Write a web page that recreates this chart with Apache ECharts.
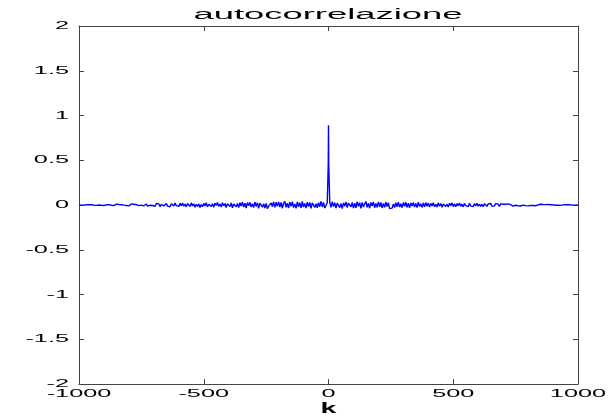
<!DOCTYPE html>
<html>
<head>
<meta charset="utf-8">
<script src="https://cdn.jsdelivr.net/npm/echarts@6/dist/echarts.min.js"></script>
<style>
html,body{margin:0;padding:0;background:#fff;}
#chart{width:612px;height:416px;}
</style>
</head>
<body>
<div id="chart"></div>
<script>
// ---- data ----
const titleText = 'autocorrelazione';
const xName = 'k';
const xTicks = [-1000, -500, 0, 500, 1000];
const yTicks = [-2, -1.5, -1, -0.5, 0, 0.5, 1, 1.5, 2];
const lagStart = -1000;
const lagStep = 5;
// autocorrelation for negative lags k = -1000 ... -5 (step 5)
const rNeg = [
  0.000, 0.002, -0.001, 0.003, -0.002, 0.001, 0.004, -0.003, 0.002, -0.001, 0.003, 0.005, -0.002, 0.001, -0.004, 0.003, 0.000, 0.006, -0.003, 0.002,
  -0.005, 0.007, 0.002, -0.008, 0.004, 0.009, -0.003, 0.006, -0.007, 0.001, 0.010, -0.004, 0.005, -0.009, 0.003, 0.008, -0.002, 0.011, -0.006, 0.004,
  -0.010, 0.006, 0.012, -0.004, 0.009, -0.011, 0.003, 0.014, -0.007, 0.008, -0.002, 0.013, -0.009, 0.005, 0.011, -0.012, 0.007, -0.003, 0.015, -0.006,
  0.010, -0.014, 0.017, -0.005, 0.012, -0.018, 0.008, 0.020, -0.011, 0.004, 0.016, -0.013, 0.009, -0.019, 0.014, 0.002, -0.010, 0.021, -0.007, 0.013,
  -0.016, 0.019, -0.008, 0.023, -0.014, 0.011, -0.021, 0.017, 0.005, -0.018, 0.024, -0.010, 0.013, -0.025, 0.008, -0.015, 0.012, -0.028, 0.006, -0.020,
  0.018, -0.012, 0.026, -0.021, 0.009, 0.023, -0.017, 0.014, -0.026, 0.020, -0.006, 0.028, -0.015, 0.011, -0.023, 0.025, -0.009, 0.017, -0.027, 0.013,
  0.029, -0.018, 0.022, -0.031, 0.012, 0.034, -0.020, 0.016, -0.028, 0.025, -0.011, 0.032, -0.024, 0.019, -0.035, 0.027, -0.008, 0.030, -0.022, 0.015,
  -0.029, 0.033, -0.016, 0.026, -0.037, 0.021, 0.038, -0.025, 0.014, -0.034, 0.018, -0.040, -0.012, -0.031, 0.024, -0.019, 0.036, -0.027, 0.030, -0.013,
  0.035, -0.022, 0.028, -0.036, 0.017, 0.040, -0.026, 0.021, -0.033, 0.031, -0.015, 0.037, -0.029, 0.012, -0.038, 0.034, -0.020, 0.027, -0.032, 0.039,
  -0.024, 0.018, -0.035, 0.032, -0.017, 0.029, -0.038, 0.023, 0.036, -0.027, 0.015, -0.031, 0.026, -0.019, 0.041, -0.022, 0.030, -0.034, -0.020, 0.025
];
// central peak
const peakK = [-1, 0, 1];
const peakR = [0.45, 0.89, 0.45];
// autocorrelation for positive lags k = 5 ... 1000 (step 5)
const rPos = [
  0.031, -0.026, 0.038, -0.018, 0.027, -0.035, 0.020, 0.033, -0.029, 0.016, -0.039, 0.024, -0.013, 0.035, -0.030, 0.022, 0.037, -0.021, 0.028, -0.034,
  0.019, -0.032, 0.036, -0.015, 0.025, -0.038, 0.030, -0.023, 0.014, 0.039, -0.027, 0.021, -0.036, 0.028, -0.012, 0.033, -0.030, 0.017, -0.025, 0.034,
  -0.021, 0.029, -0.033, 0.018, -0.027, 0.031, -0.016, 0.024, -0.040, -0.018, -0.035, 0.012, -0.028, 0.026, -0.019, 0.032, -0.024, 0.015, -0.030, 0.027,
  -0.014, 0.030, -0.025, 0.019, -0.032, 0.023, -0.010, 0.028, -0.022, 0.016, -0.029, 0.031, -0.017, 0.012, -0.026, 0.024, -0.020, 0.027, -0.013, 0.021,
  -0.024, 0.018, -0.011, 0.026, -0.019, 0.008, -0.022, 0.023, -0.014, 0.017, -0.025, 0.012, 0.021, -0.016, 0.009, -0.023, 0.019, -0.007, 0.024, -0.018,
  0.013, -0.020, 0.016, -0.009, 0.022, -0.015, 0.010, -0.021, 0.018, -0.006, 0.014, -0.019, 0.020, -0.012, 0.007, -0.017, 0.015, -0.010, 0.019, -0.014,
  0.011, -0.016, 0.008, -0.019, 0.014, -0.005, -0.015, 0.012, -0.009, 0.017, -0.013, 0.006, -0.011, 0.015, -0.007, 0.010, -0.016, 0.013, -0.004, 0.009,
  -0.011, 0.008, -0.006, 0.013, -0.009, 0.004, 0.011, -0.012, 0.007, -0.003, 0.010, -0.008, 0.005, -0.011, 0.009, -0.002, 0.012, -0.007, 0.006, -0.010,
  0.007, -0.004, 0.009, -0.006, 0.003, -0.008, 0.006, 0.001, -0.005, 0.008, -0.003, 0.005, -0.007, 0.004, -0.002, 0.007, -0.005, 0.003, -0.006, 0.002,
  0.005, -0.003, 0.004, -0.002, 0.003, -0.004, 0.002, 0.001, -0.003, 0.004, -0.001, 0.002, -0.003, 0.002, 0.001, -0.002, 0.002, -0.001, 0.001, 0.000
];

// ---- build series ----
const seriesData = [];
rNeg.forEach((v, i) => seriesData.push([lagStart + i * lagStep, v]));
peakK.forEach((k, i) => seriesData.push([k, peakR[i]]));
rPos.forEach((v, i) => seriesData.push([(i + 1) * lagStep, v]));

const FONT = '"Liberation Sans", Arial, Helvetica, sans-serif';
const AX = '#444';
const plainNum = v => String(v);

function xAxisCfg(pos, showLabel) {
  return {
    type: 'value', position: pos,
    min: xTicks[0], max: xTicks[xTicks.length - 1], interval: xTicks[1] - xTicks[0],
    axisLine: { show: true, onZero: false, lineStyle: { color: AX, width: 1 } },
    axisTick: { show: true, inside: true, length: 5, lineStyle: { color: AX } },
    axisLabel: { show: showLabel, margin: 4, fontSize: 11, color: '#000', fontFamily: FONT, formatter: plainNum },
    splitLine: { show: false }
  };
}
function yAxisCfg(pos, showLabel) {
  return {
    type: 'value', position: pos,
    min: yTicks[0], max: yTicks[yTicks.length - 1], interval: yTicks[1] - yTicks[0],
    axisLine: { show: true, onZero: false, lineStyle: { color: AX, width: 1 } },
    axisTick: { show: true, inside: true, length: 5, lineStyle: { color: AX } },
    axisLabel: { show: showLabel, margin: 10, fontSize: 11, color: '#000', fontFamily: FONT, formatter: plainNum },
    splitLine: { show: false }
  };
}

const xBottom = xAxisCfg('bottom', true);
xBottom.name = xName;
xBottom.nameLocation = 'middle';
xBottom.nameGap = 17;
xBottom.nameMoveOverlap = false;
xBottom.nameTextStyle = { fontSize: 15, fontWeight: 'bold', color: '#000', fontFamily: FONT };
const xTop = xAxisCfg('top', false);
const yLeft = yAxisCfg('left', true);
const yRight = yAxisCfg('right', false);

const chart = echarts.init(document.getElementById('chart'), null, { renderer: 'canvas' });
chart.setOption({
  animation: false,
  backgroundColor: '#ffffff',
  grid: { left: 79, right: 34, top: 26, bottom: 32, containLabel: false, outerBoundsMode: 'none' },
  xAxis: [xBottom, xTop],
  yAxis: [yLeft, yRight],
  graphic: [{
    type: 'text', x: 328, y: 15, scaleX: 2.6, silent: true,
    style: {
      text: titleText, fontSize: 14, fontFamily: FONT, fill: '#000',
      align: 'center', verticalAlign: 'middle', textAlign: 'center', textVerticalAlign: 'middle'
    }
  }],
  series: [{
    type: 'line', xAxisIndex: 0, yAxisIndex: 0,
    data: seriesData, showSymbol: false, symbol: 'none',
    lineStyle: { color: '#0000ff', width: 1.4 },
    itemStyle: { color: '#0000ff' }
  }]
});

// The reference renders its text horizontally stretched; widen the axis texts around their anchors.
function stretchAxisTexts() {
  try {
    const zr = chart.getZr();
    const done = new Set();
    zr.storage.getDisplayList(true).forEach(el => {
      const t = (el.type === 'tspan' && el.parent) ? el.parent : null;
      if (!t || done.has(t) || !t.style || t.style.text == null) return;
      done.add(t);
      if (t.scaleX !== 1) return;
      t.originX = t.style.x || 0;
      t.originY = t.style.y || 0;
      t.scaleX = (String(t.style.text) === xName) ? 1.9 : 2.3;
      t.markRedraw();
    });
    zr.refreshImmediately();
  } catch (e) { /* keep default rendering */ }
}
stretchAxisTexts();
</script>
</body>
</html>
